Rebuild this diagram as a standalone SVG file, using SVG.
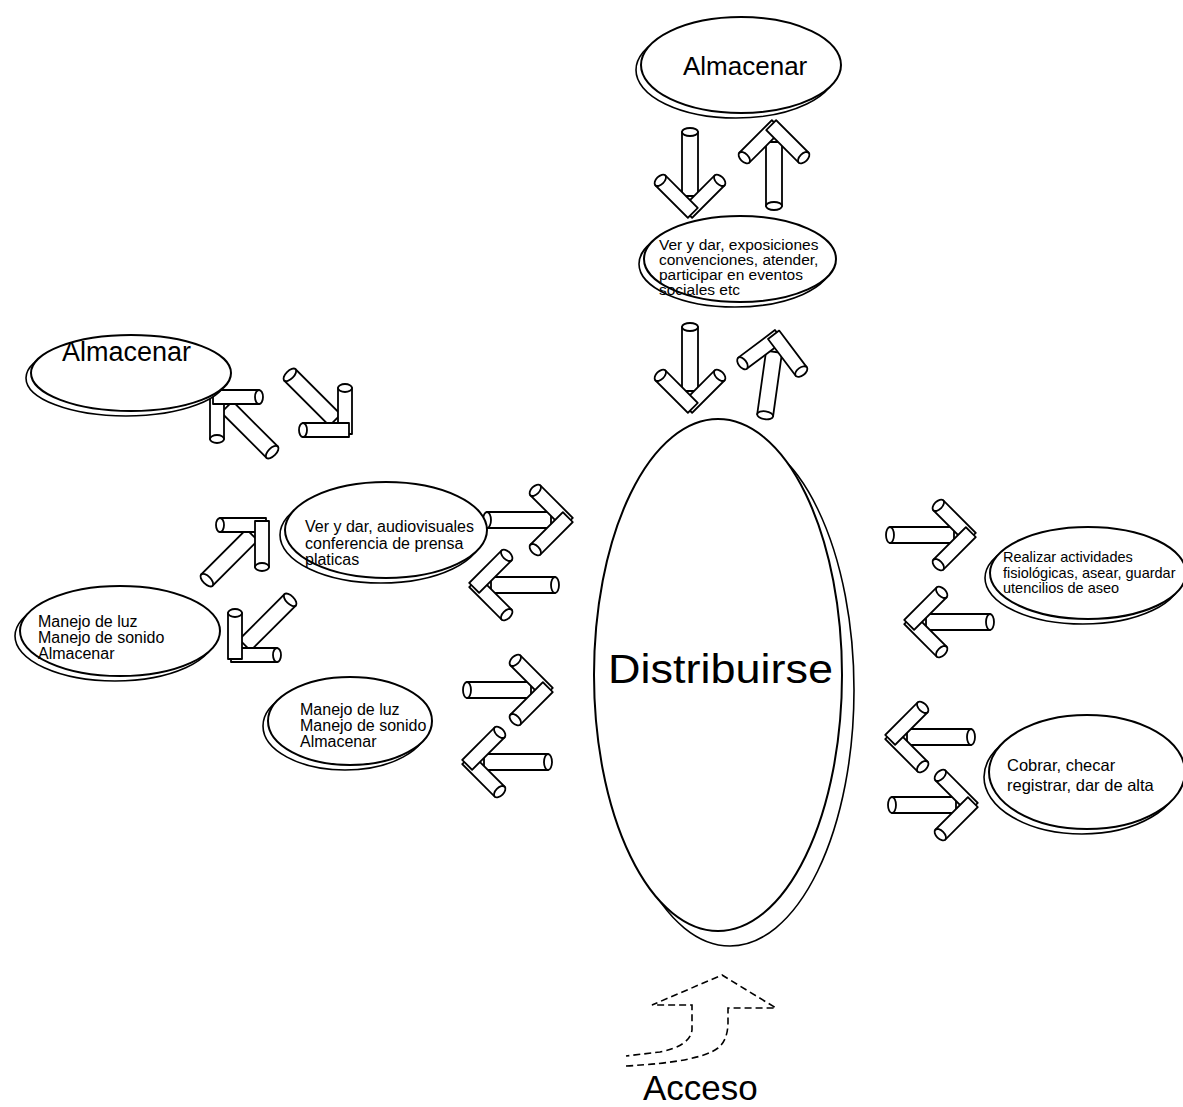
<svg xmlns="http://www.w3.org/2000/svg" xmlns:xlink="http://www.w3.org/1999/xlink" width="1183" height="1107" viewBox="0 0 1183 1107">
  <style>
    .shadow { fill: #fff; stroke: #000; stroke-width: 1.6; }
    .oval { fill: #fff; stroke: #000; stroke-width: 2; }
    .lbl { font-family: "Liberation Sans", Arial, sans-serif; fill: #000; }
    .tube { fill: #fff; stroke: #000; stroke-width: 1.8; stroke-linejoin: round; }
    .access { fill: none; stroke: #000; stroke-width: 1.6; stroke-dasharray: 7 4; }
  </style>
  <defs>
    <!-- one rounded bar of the arrow head, running along +x from the tip -->
    <g id="bar">
      <rect class="tube" x="-4" y="-7" width="46" height="14"/>
      <ellipse class="tube" cx="42" cy="0" rx="4" ry="7"/>
    </g>
    <!-- cylinder arrow pointing along +x, tip at the origin -->
    <g id="tube">
      <rect class="tube" x="-78" y="-8" width="64" height="16"/>
      <ellipse class="tube" cx="-78" cy="0" rx="4" ry="8"/>
      <use xlink:href="#bar" transform="rotate(-135)"/>
      <use xlink:href="#bar" transform="rotate(135)"/>
    </g>
  </defs>

  <rect width="1183" height="1107" fill="#fff"/>

  <g id="connectors">
    <!-- top column -->
    <use xlink:href="#tube" transform="translate(690,210) rotate(90)"/>
    <use xlink:href="#tube" transform="translate(774,128) rotate(-90)"/>
    <use xlink:href="#tube" transform="translate(690,405) rotate(90)"/>
    <use xlink:href="#tube" transform="translate(776,338) rotate(-82)"/>
    <!-- left cluster -->
    <use xlink:href="#tube" transform="translate(217,397) rotate(-135)"/>
    <use xlink:href="#tube" transform="translate(345,430) rotate(45)"/>
    <use xlink:href="#tube" transform="translate(262,525) rotate(-45)"/>
    <use xlink:href="#tube" transform="translate(235,655) rotate(135)"/>
    <!-- between left nodes and centre -->
    <use xlink:href="#tube" transform="translate(565,520)"/>
    <use xlink:href="#tube" transform="translate(477,585) rotate(180)"/>
    <use xlink:href="#tube" transform="translate(545,690)"/>
    <use xlink:href="#tube" transform="translate(470,762) rotate(180)"/>
    <!-- right side -->
    <use xlink:href="#tube" transform="translate(968,535)"/>
    <use xlink:href="#tube" transform="translate(912,622) rotate(180)"/>
    <use xlink:href="#tube" transform="translate(893,737) rotate(180)"/>
    <use xlink:href="#tube" transform="translate(970,805)"/>
    <!-- entrance arrow -->
    <path class="access" d="M 626,1066 Q 700,1062 718,1048 Q 728,1040 728,1022 L 728,1008 L 776,1008 L 722,975 L 652,1005 L 692,1005 L 692,1030 Q 690,1046 660,1052 L 626,1056"/>
  </g>

  <g id="node-almacenar-top">
    <ellipse class="shadow" cx="736" cy="70" rx="100" ry="48"/>
    <ellipse class="oval" cx="741" cy="65" rx="100" ry="48"/>
    <text class="lbl" x="683" y="75" font-size="26">Almacenar</text>
  </g>

  <g id="node-exposiciones">
    <ellipse class="shadow" cx="735" cy="264" rx="96" ry="43"/>
    <ellipse class="oval" cx="740" cy="259" rx="96" ry="43"/>
    <text class="lbl" font-size="15.5">
      <tspan x="659" y="250">Ver y dar, exposiciones</tspan>
      <tspan x="659" y="265">convenciones, atender,</tspan>
      <tspan x="659" y="280">participar en eventos</tspan>
      <tspan x="659" y="295">sociales etc</tspan>
    </text>
  </g>

  <g id="node-almacenar-left">
    <ellipse class="shadow" cx="126" cy="378" rx="100" ry="38"/>
    <ellipse class="oval" cx="131" cy="373" rx="100" ry="38"/>
    <text class="lbl" x="62" y="361" font-size="27">Almacenar</text>
  </g>

  <g id="node-audiovisuales">
    <ellipse class="shadow" cx="381" cy="535" rx="101" ry="48"/>
    <ellipse class="oval" cx="386" cy="530" rx="101" ry="48"/>
    <text class="lbl" font-size="16">
      <tspan x="305" y="532">Ver y dar, audiovisuales</tspan>
      <tspan x="305" y="549">conferencia de prensa</tspan>
      <tspan x="305" y="565">platicas</tspan>
    </text>
  </g>

  <g id="node-manejo-left">
    <ellipse class="shadow" cx="115" cy="636" rx="100" ry="45"/>
    <ellipse class="oval" cx="120" cy="631" rx="100" ry="45"/>
    <text class="lbl" font-size="16">
      <tspan x="38" y="627">Manejo de luz</tspan>
      <tspan x="38" y="643">Manejo de sonido</tspan>
      <tspan x="38" y="659">Almacenar</tspan>
    </text>
  </g>

  <g id="node-manejo-mid">
    <ellipse class="shadow" cx="345" cy="726" rx="82" ry="44"/>
    <ellipse class="oval" cx="350" cy="721" rx="82" ry="44"/>
    <text class="lbl" font-size="16">
      <tspan x="300" y="715">Manejo de luz</tspan>
      <tspan x="300" y="731">Manejo de sonido</tspan>
      <tspan x="300" y="747">Almacenar</tspan>
    </text>
  </g>

  <g id="node-distribuirse">
    <ellipse class="shadow" cx="730" cy="690" rx="124" ry="256"/>
    <ellipse class="oval" cx="718" cy="675" rx="124" ry="256"/>
    <text class="lbl" x="608" y="683" font-size="40" textLength="225" lengthAdjust="spacingAndGlyphs">Distribuirse</text>
  </g>

  <g id="node-aseo">
    <ellipse class="shadow" cx="1083" cy="578" rx="98" ry="46"/>
    <ellipse class="oval" cx="1088" cy="573" rx="98" ry="46"/>
    <text class="lbl" font-size="14.5">
      <tspan x="1003" y="562">Realizar actividades</tspan>
      <tspan x="1003" y="578">fisiológicas, asear, guardar</tspan>
      <tspan x="1003" y="593">utencilios de aseo</tspan>
    </text>
  </g>

  <g id="node-cobrar">
    <ellipse class="shadow" cx="1082" cy="777" rx="98" ry="57"/>
    <ellipse class="oval" cx="1087" cy="772" rx="98" ry="57"/>
    <text class="lbl" font-size="16.5">
      <tspan x="1007" y="771">Cobrar, checar</tspan>
      <tspan x="1007" y="791">registrar, dar de alta</tspan>
    </text>
  </g>

  <g id="label-acceso">
    <text class="lbl" x="643" y="1100" font-size="35">Acceso</text>
  </g>
</svg>
